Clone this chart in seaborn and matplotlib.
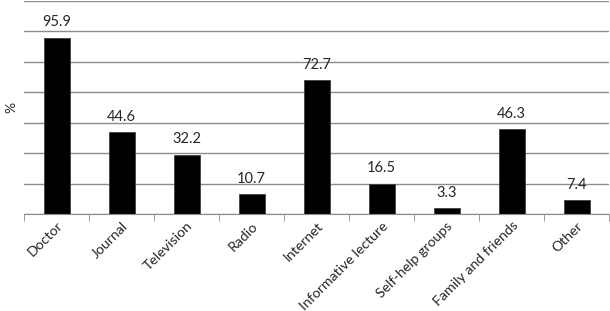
import numpy as np
import seaborn as sns
import matplotlib.pyplot as plt
from matplotlib.ticker import MultipleLocator, FixedLocator, NullFormatter

sns.set_style("white")
plt.rcParams['font.family'] = ['Lato', 'DejaVu Sans']

# %% 数据
categories = ['Doctor', 'Journal', 'Television', 'Radio', 'Internet',
              'Informative lecture', 'Self-help groups', 'Family and friends', 'Other']
values = [95.9, 44.6, 32.2, 10.7, 72.7, 16.5, 3.3, 46.3, 7.4]

# %% 绘图
fig = plt.figure(figsize=(6.1, 3.11), dpi=100)
ax = fig.add_axes([24 / 610, 97 / 311, 585 / 610, 213 / 311])
sns.barplot(x=categories, y=values, color='black', width=0.4,
            edgecolor='#404040', linewidth=0.6, saturation=1, ax=ax)

ymax = 115.8
ax.set_ylim(0, ymax)
ax.set_xlim(-0.5, len(categories) - 0.5)
ax.yaxis.set_major_locator(FixedLocator(np.linspace(0, ymax, 8)))
ax.yaxis.set_major_formatter(NullFormatter())
ax.grid(axis='y', color='#8c8c8c', linewidth=1)
ax.set_axisbelow(True)
for s in ['top', 'right', 'left']:
    ax.spines[s].set_visible(False)
ax.spines['bottom'].set_color('#8c8c8c')
ax.tick_params(axis='y', length=0)

# 类别间刻度
ax.xaxis.set_minor_locator(MultipleLocator(1, offset=0.5))
ax.tick_params(axis='x', which='minor', length=5, color='#8c8c8c', direction='out', bottom=True)
ax.tick_params(axis='x', which='major', length=0, pad=4, labelsize=10.2)
plt.setp(ax.get_xticklabels(), rotation=45, ha='right', rotation_mode='anchor')

ax.bar_label(ax.containers[0], fmt='%.1f', padding=6, fontsize=10.5)
ax.set_ylabel('%', fontsize=10)
ax.yaxis.set_label_coords(-0.012, 0.5)

fig.savefig('out.png', dpi=100)
